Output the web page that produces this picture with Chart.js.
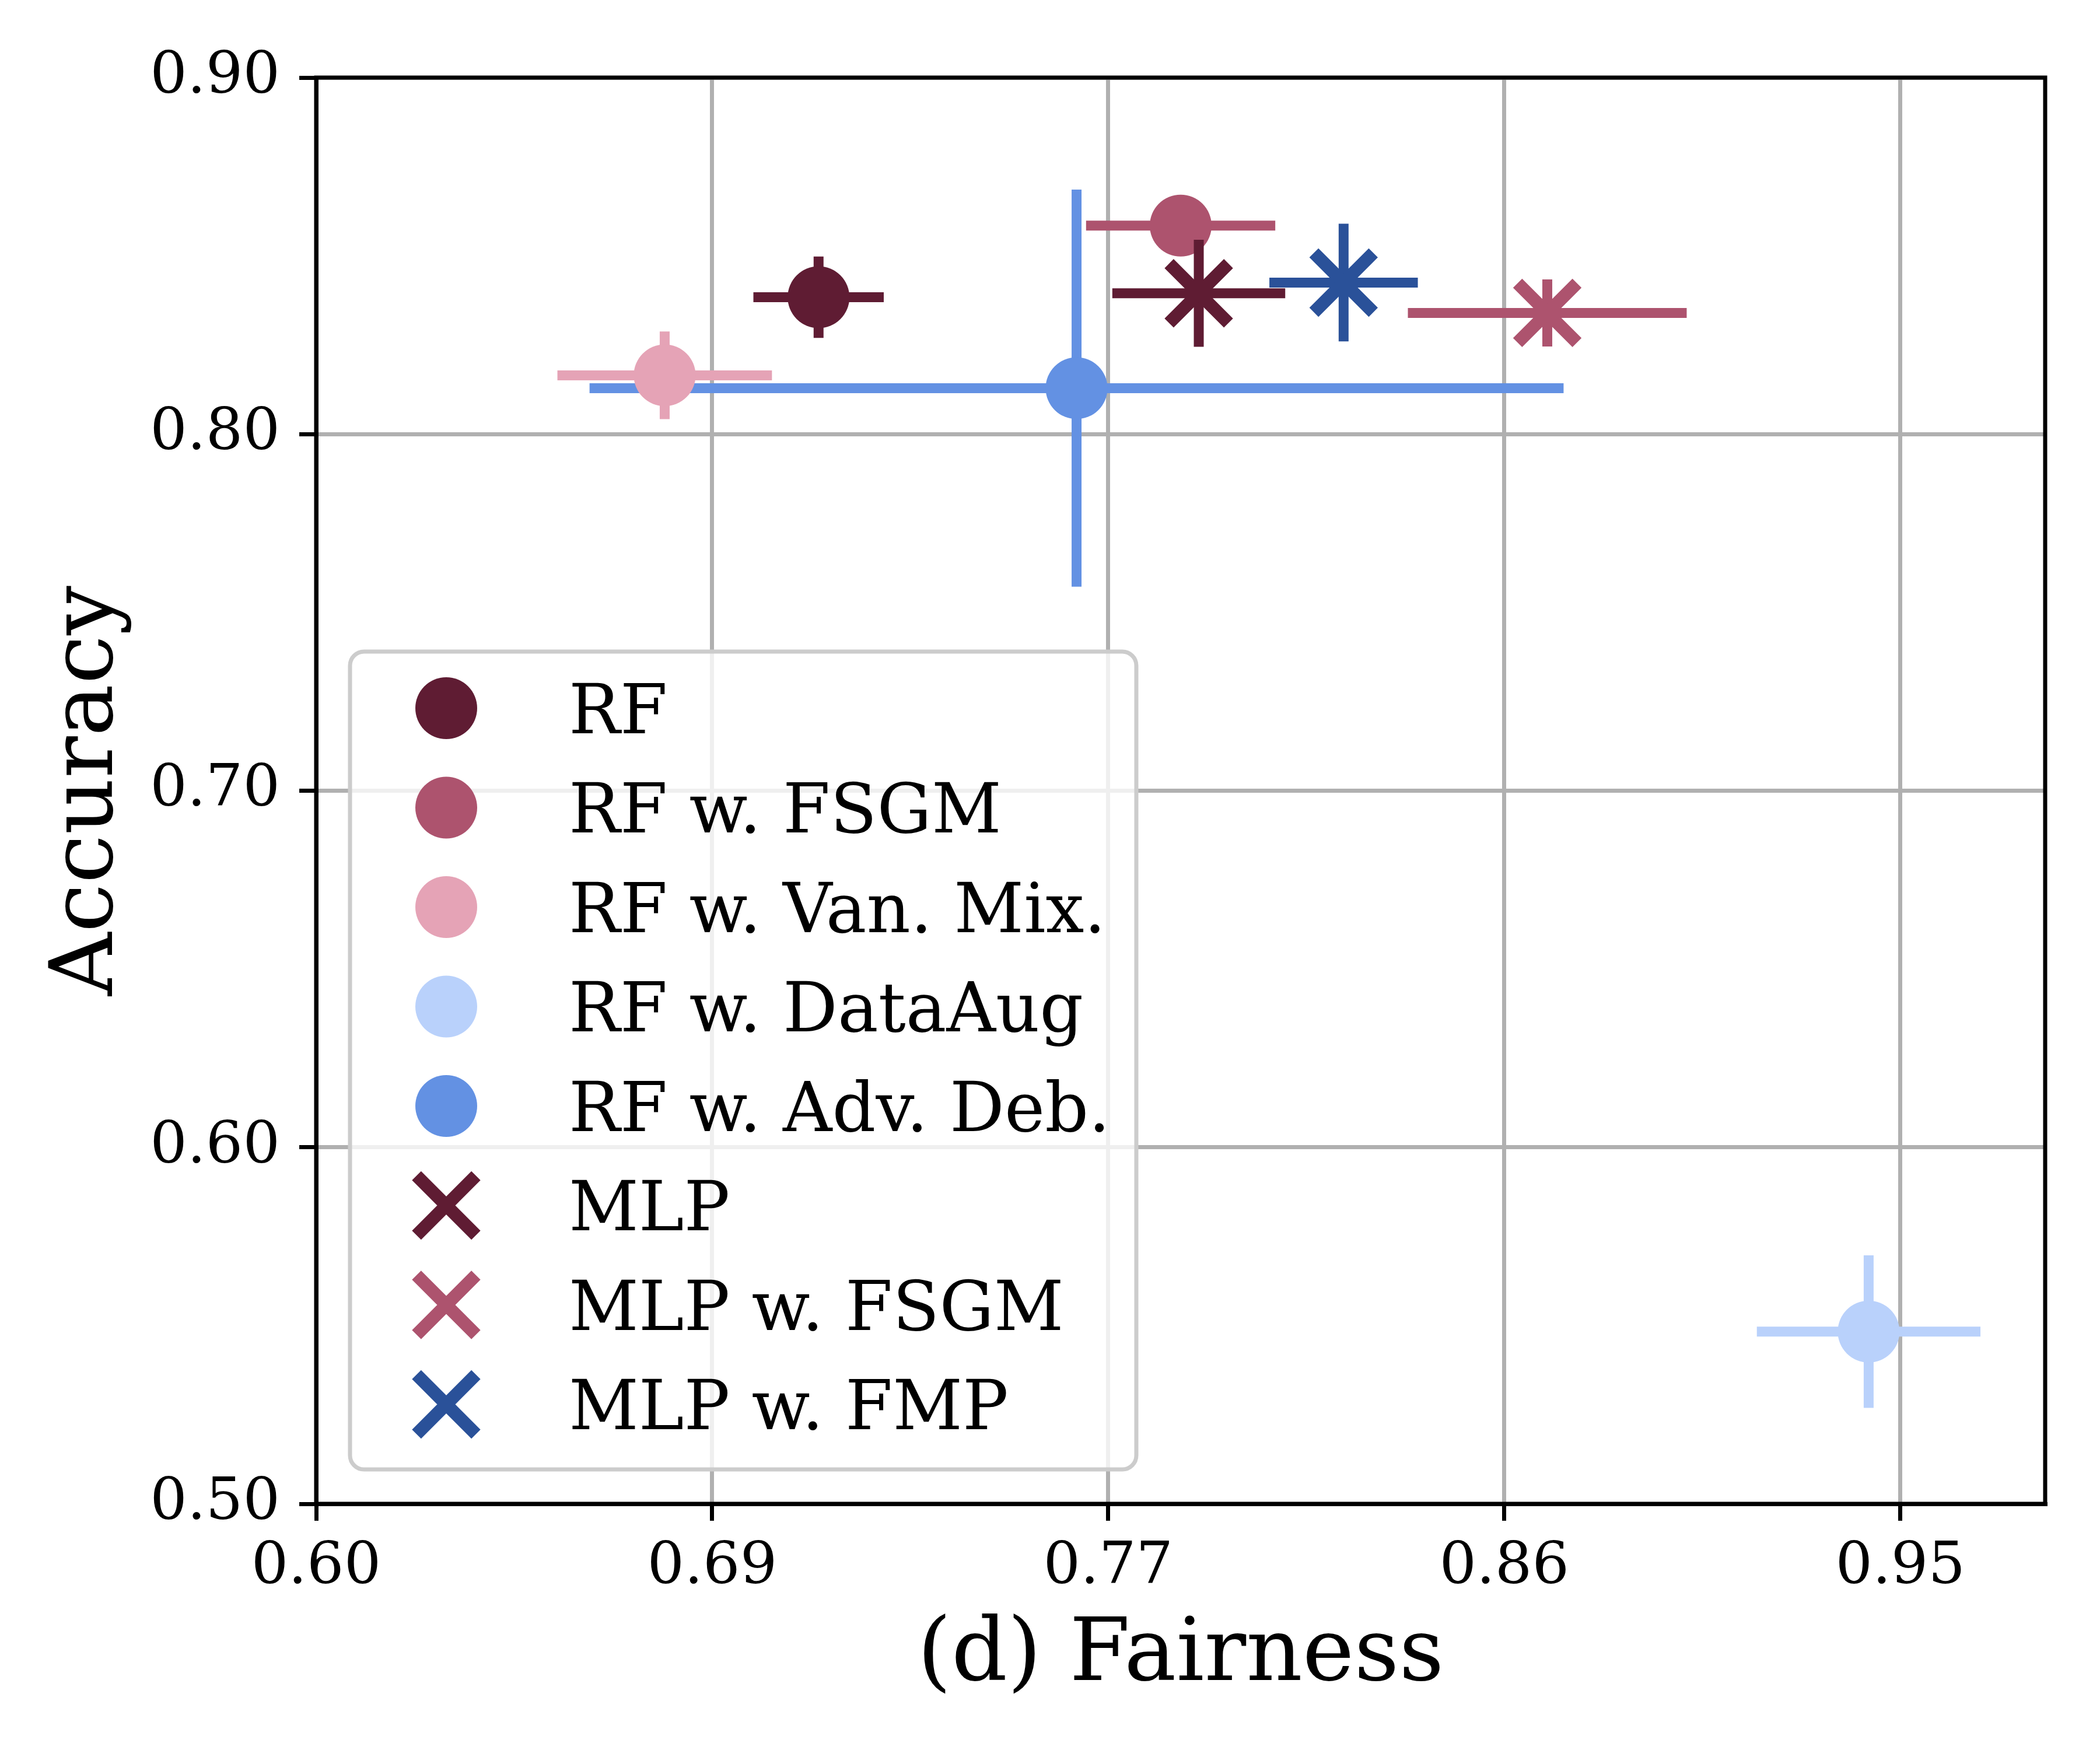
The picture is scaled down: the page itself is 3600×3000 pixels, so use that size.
<!DOCTYPE html>
<html>
<head>
<meta charset="utf-8">
<script src="https://cdn.jsdelivr.net/npm/chart.js@4.4.1/dist/chart.umd.min.js"></script>
<style>
  html, body { margin: 0; padding: 0; background: #ffffff; }
  canvas { display: block; }
</style>
</head>
<body>
<canvas id="fair-chart" width="3600" height="3000" style="width:3600px;height:3000px"></canvas>
<script>
// Series
const methods = ['RF', 'RF w. FSGM', 'RF w. Van. Mix.', 'RF w. DataAug', 'RF w. Adv. Deb.', 'MLP', 'MLP w. FSGM', 'MLP w. FMP'];
const fairness = [0.711, 0.791, 0.677, 0.943, 0.768, 0.795, 0.872, 0.827];
const fairnessErr = [0.0144, 0.0209, 0.0237, 0.0247, 0.1076, 0.0191, 0.0308, 0.0164];
const accuracy = [0.8384, 0.8585, 0.8165, 0.5483, 0.8129, 0.8395, 0.834, 0.8425];
const accuracyErr = [0.0114, 0.004, 0.0123, 0.0214, 0.0557, 0.015, 0.0094, 0.0165];
const markerShapes = ['circle', 'circle', 'circle', 'circle', 'circle', 'crossRot', 'crossRot', 'crossRot'];
const seriesColors = ['#5f1c33', '#ad536e', '#e5a3b6', '#b9d1fb', '#6391e3', '#5f1c33', '#ad536e', '#2a5199'];

// Axis ticks
const xTickValues = [0.6, 0.6875, 0.775, 0.8625, 0.95];
const xTickLabels = ['0.60', '0.69', '0.77', '0.86', '0.95'];
const yTickValues = [0.5, 0.6, 0.7, 0.8, 0.9];
const yTickLabels = ['0.50', '0.60', '0.70', '0.80', '0.90'];

// Order the series are painted in (first = bottom)
const paintOrder = [0, 1, 4, 2, 3, 5, 6, 7];

const FONT = 'DejaVu Serif';
const CIRCLE_R = 53;
const CROSS_R = 72;
const CROSS_W = 22;
const BAR_W = 17;

// Build datasets: each series gets a horizontal bar, a vertical bar, then its marker
const datasets = [];
const total = paintOrder.length * 3;
let layer = 0;
paintOrder.forEach((i) => {
  const x = fairness[i];
  const y = accuracy[i];
  const color = seriesColors[i];
  const bar = (pts) => ({
    data: pts,
    showLine: true,
    borderColor: color,
    borderWidth: BAR_W,
    borderCapStyle: 'butt',
    pointRadius: 0,
    pointHoverRadius: 0,
    order: total - layer++,
  });
  datasets.push(bar([{ x: x - fairnessErr[i], y }, { x: x + fairnessErr[i], y }]));
  datasets.push(bar([{ x, y: y - accuracyErr[i] }, { x, y: y + accuracyErr[i] }]));
  const cross = markerShapes[i] === 'crossRot';
  datasets.push({
    label: methods[i],
    data: [{ x, y }],
    pointStyle: markerShapes[i],
    pointRadius: cross ? CROSS_R : CIRCLE_R,
    pointHoverRadius: cross ? CROSS_R : CIRCLE_R,
    backgroundColor: color,
    borderColor: color,
    pointBorderWidth: cross ? CROSS_W : 0,
    showLine: false,
    order: total - layer++,
  });
});

// Top / right spines
const frameSpines = {
  id: 'frameSpines',
  afterDatasetsDraw(chart) {
    const { ctx, chartArea: a } = chart;
    ctx.save();
    ctx.strokeStyle = '#000000';
    ctx.lineWidth = 7;
    ctx.strokeRect(a.left, a.top, a.right - a.left, a.bottom - a.top);
    ctx.restore();
  },
};

// Matplotlib-like legend box in the lower left of the plot
const boxLegend = {
  id: 'boxLegend',
  afterDatasetsDraw(chart) {
    const { ctx } = chart;
    const left = 600, top = 1117, right = 1948, bottom = 2519, radius = 24;
    const firstRow = 1214, rowStep = 170.5, markerX = 765, textX = 975, fontSize = 117;
    ctx.save();
    ctx.beginPath();
    ctx.roundRect(left, top, right - left, bottom - top, radius);
    ctx.fillStyle = 'rgba(255,255,255,0.8)';
    ctx.fill();
    ctx.lineWidth = 7;
    ctx.strokeStyle = '#cccccc';
    ctx.stroke();

    methods.forEach((name, i) => {
      const y = firstRow + i * rowStep;
      const color = seriesColors[i];
      if (markerShapes[i] === 'circle') {
        ctx.beginPath();
        ctx.arc(markerX, y, CIRCLE_R, 0, Math.PI * 2);
        ctx.fillStyle = color;
        ctx.fill();
      } else {
        const d = CROSS_R * Math.SQRT1_2;
        ctx.beginPath();
        ctx.moveTo(markerX - d, y - d);
        ctx.lineTo(markerX + d, y + d);
        ctx.moveTo(markerX - d, y + d);
        ctx.lineTo(markerX + d, y - d);
        ctx.strokeStyle = color;
        ctx.lineWidth = CROSS_W;
        ctx.lineCap = 'butt';
        ctx.stroke();
      }
      ctx.fillStyle = '#000000';
      ctx.font = `${fontSize}px "${FONT}"`;
      ctx.textAlign = 'left';
      ctx.textBaseline = 'alphabetic';
      ctx.fillText(name, textX, y + fontSize * 0.3645);
    });
    ctx.restore();
  },
};

new Chart(document.getElementById('fair-chart'), {
  type: 'scatter',
  data: { datasets },
  options: {
    responsive: false,
    devicePixelRatio: 1,
    animation: false,
    layout: { padding: { left: 0, right: 90, top: 133, bottom: 0 } },
    plugins: {
      legend: { display: false },
      tooltip: { enabled: false },
    },
    scales: {
      x: {
        type: 'linear',
        min: 0.6,
        max: 0.982,
        afterBuildTicks: (scale) => {
          scale.ticks = xTickValues.map((v) => ({ value: v }));
        },
        afterFit: (scale) => {
          scale.height = 422;
        },
        ticks: {
          autoSkip: false,
          maxRotation: 0,
          padding: 21,
          color: '#000000',
          font: { family: FONT, size: 100 },
          callback: (value, index) => xTickLabels[index],
        },
        grid: {
          color: '#b0b0b0',
          lineWidth: 7,
          tickColor: '#000000',
          tickLength: 29,
          tickWidth: 7,
        },
        border: { display: true, color: '#000000', width: 7 },
        title: {
          display: true,
          text: '(d) Fairness',
          color: '#000000',
          font: { family: FONT, size: 150 },
          padding: { top: 0, bottom: 69 },
        },
      },
      y: {
        type: 'linear',
        min: 0.5,
        max: 0.9,
        afterBuildTicks: (scale) => {
          scale.ticks = yTickValues.map((v) => ({ value: v }));
        },
        afterFit: (scale) => {
          scale.width = 542;
        },
        ticks: {
          autoSkip: false,
          padding: 33,
          color: '#000000',
          font: { family: FONT, size: 100 },
          callback: (value, index) => yTickLabels[index],
        },
        grid: {
          color: '#b0b0b0',
          lineWidth: 7,
          tickColor: '#000000',
          tickLength: 29,
          tickWidth: 7,
        },
        border: { display: true, color: '#000000', width: 7 },
        title: {
          display: true,
          text: 'Accuracy',
          color: '#000000',
          font: { family: FONT, size: 150 },
          padding: { top: 63, bottom: 0 },
        },
      },
    },
  },
  plugins: [frameSpines, boxLegend],
});
</script>
</body>
</html>
